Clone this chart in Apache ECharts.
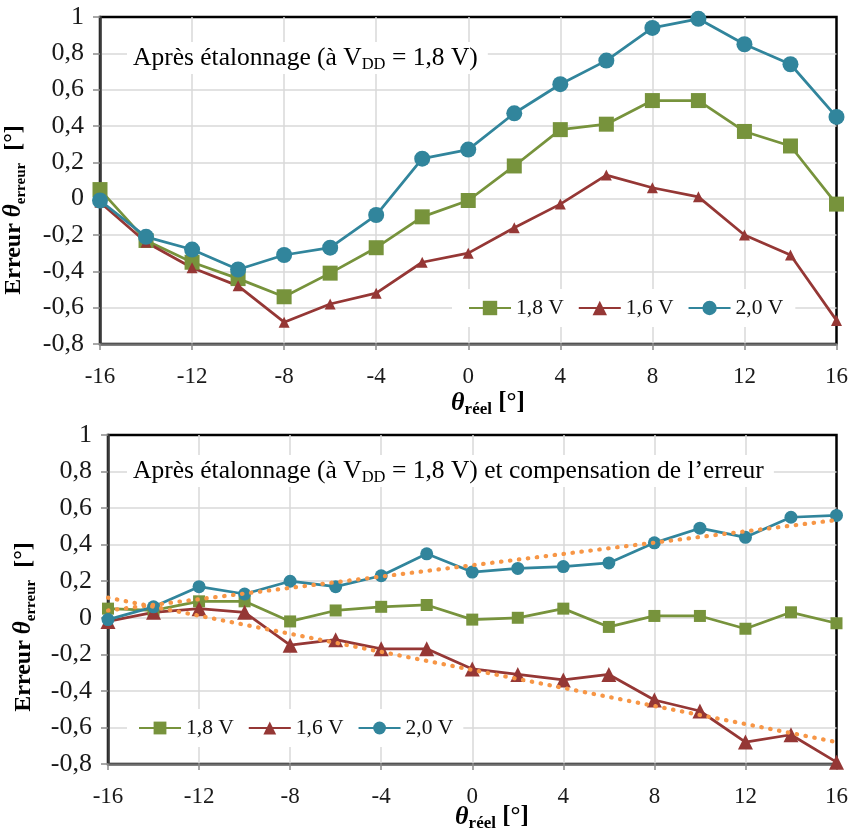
<!DOCTYPE html>
<html><head><meta charset="utf-8">
<script src="https://cdn.jsdelivr.net/npm/echarts@6/dist/echarts.min.js"></script>
<style>html,body{margin:0;padding:0;background:#fff}#c{width:851px;height:833px}</style>
</head><body><div id="c"></div>
<script>
// ---- data ----
const angles = [-16,-14,-12,-10,-8,-6,-4,-2,0,2,4,6,8,10,12,14,16];
const legendLabels = ['1,8 V','1,6 V','2,0 V'];
// top chart: after calibration
const top18 = [0.05,-0.23,-0.35,-0.44,-0.54,-0.41,-0.27,-0.10,-0.01,0.18,0.38,0.41,0.54,0.54,0.37,0.29,-0.03];
const top16 = [-0.02,-0.24,-0.38,-0.48,-0.68,-0.58,-0.52,-0.35,-0.30,-0.16,-0.03,0.13,0.06,0.01,-0.20,-0.31,-0.67];
const top20 = [-0.01,-0.21,-0.28,-0.39,-0.31,-0.27,-0.09,0.22,0.27,0.47,0.63,0.76,0.94,0.99,0.85,0.74,0.45];
// bottom chart: after calibration and compensation
const bot18 = [0.05,0.04,0.09,0.09,-0.02,0.04,0.06,0.07,-0.01,0.00,0.05,-0.05,0.01,0.01,-0.06,0.03,-0.03];
const bot16 = [-0.02,0.03,0.05,0.03,-0.15,-0.12,-0.17,-0.17,-0.28,-0.31,-0.34,-0.31,-0.45,-0.51,-0.68,-0.64,-0.79];
const bot20 = [-0.01,0.06,0.17,0.13,0.20,0.17,0.23,0.35,0.25,0.27,0.28,0.30,0.41,0.49,0.44,0.55,0.56];
// linear trend lines (end points)
const trendAngles = [-16, 16];
const trend20 = [0.04, 0.535];
const trend16 = [0.11, -0.68];

// ---- styling ----
const SERIF = 'Liberation Serif';
const C18 = '#77933C', C16 = '#953735', C20 = '#31859C', CTR = '#F79646';
const pairs = (xs, ys) => xs.map((x, i) => [x, ys[i]]);
const fmtY = v => String(Math.round(v * 10) / 10).replace('.', ',');

function xAx(gi) {
  return {
    type: 'value', gridIndex: gi, min: -16, max: 16, interval: 4,
    axisLine: { onZero: false, lineStyle: { color: '#6d6d6d', width: 2.5 } },
    axisTick: { show: true, length: 6, lineStyle: { color: '#8c8c8c', width: 1.5 } },
    axisLabel: { fontFamily: SERIF, fontSize: 23, color: '#1a1a1a', margin: 21 },
    splitLine: { show: true, showMinLine: false, showMaxLine: false, lineStyle: { color: '#d9d9d9', width: 1.5 } }
  };
}
function yAx(gi) {
  return {
    type: 'value', gridIndex: gi, min: -0.8, max: 1, interval: 0.2,
    axisLine: { onZero: false, lineStyle: { color: '#3a3a3a', width: 2.5 } },
    axisTick: { show: true, length: 7, lineStyle: { color: '#8c8c8c', width: 1.5 } },
    axisLabel: { fontFamily: SERIF, fontSize: 26, color: '#1a1a1a', margin: 16, formatter: fmtY },
    splitLine: { show: true, showMinLine: false, showMaxLine: false, lineStyle: { color: '#d9d9d9', width: 1.5 } }
  };
}
function line(name, gi, ys, color, symbol, size) {
  return {
    name, type: 'line', xAxisIndex: gi, yAxisIndex: gi,
    data: pairs(angles, ys), symbol, symbolSize: size,
    lineStyle: { color, width: 2.75 }, itemStyle: { color },
    animation: false, z: 3
  };
}
function trend(gi, ys) {
  return {
    type: 'line', xAxisIndex: gi, yAxisIndex: gi, data: pairs(trendAngles, ys),
    symbol: 'none', silent: true, animation: false, z: 4,
    lineStyle: { color: CTR, width: 4.2, type: [0.5, 8.5], cap: 'round' }
  };
}
const richAnn = {
  a: { fontFamily: SERIF, fontSize: 25.5, color: '#111', lineHeight: 30 },
  s: { fontFamily: SERIF, fontSize: 16.5, color: '#111', lineHeight: 16, verticalAlign: 'bottom' }
};
const richTitleY = {
  b: { fontFamily: SERIF, fontSize: 24, fontWeight: 'bold', color: '#111', lineHeight: 30 },
  t: { fontFamily: SERIF, fontSize: 25, fontWeight: 'bold', fontStyle: 'italic', color: '#111', lineHeight: 30 },
  s: { fontFamily: SERIF, fontSize: 15, fontWeight: 'bold', color: '#111', lineHeight: 15, verticalAlign: 'bottom' }
};
const richTitleX = {
  b: { fontFamily: SERIF, fontSize: 25, fontWeight: 'bold', color: '#111', lineHeight: 30 },
  t: { fontFamily: SERIF, fontSize: 26, fontWeight: 'bold', fontStyle: 'italic', color: '#111', lineHeight: 30 },
  s: { fontFamily: SERIF, fontSize: 17, fontWeight: 'bold', color: '#111', lineHeight: 17, verticalAlign: 'bottom' }
};
function legend(ids, left, top, pad, ih) {
  return {
    data: ids, left, top, orient: 'horizontal', backgroundColor: '#fff', padding: pad,
    itemWidth: 42, itemHeight: ih, itemGap: 14,
    formatter: n => legendLabels[ids.indexOf(n)],
    textStyle: { fontFamily: SERIF, fontSize: 21.5, color: '#111' }
  };
}

const chart = echarts.init(document.getElementById('c'), null, { renderer: 'canvas' });
chart.setOption({
  animation: false,
  backgroundColor: '#fff',
  grid: [
    { left: 100, top: 17, right: 14, bottom: 489, show: true, borderColor: '#000', borderWidth: 2.5, containLabel: false },
    { left: 108, top: 435, right: 14, bottom: 69, show: true, borderColor: '#000', borderWidth: 2.5, containLabel: false }
  ],
  xAxis: [xAx(0), xAx(1)],
  yAxis: [yAx(0), yAx(1)],
  legend: [
    legend(['t18', 't16', 't20'], 452, 289, [8, 12, 8, 16], 18),
    legend(['b18', 'b16', 'b20'], 127, 709, [8, 10, 8, 11], 16)
  ],
  series: [
    line('t18', 0, top18, C18, 'rect', 15),
    line('t16', 0, top16, C16, 'triangle', 11),
    line('t20', 0, top20, C20, 'circle', 16),
    line('b18', 1, bot18, C18, 'rect', 12),
    line('b16', 1, bot16, C16, 'triangle', 15),
    line('b20', 1, bot20, C20, 'circle', 13),
    trend(1, trend20),
    trend(1, trend16)
  ],
  graphic: [
    { type: 'text', x: 127, y: 58, z: 5, style: {
      text: '{a|Après étalonnage (à V}{s|DD}{a| = 1,8 V)}', rich: richAnn,
      verticalAlign: 'middle', align: 'left', backgroundColor: '#fff', padding: [1, 10, 1, 6] } },
    { type: 'text', x: 127, y: 471, z: 5, style: {
      text: '{a|Après étalonnage (à V}{s|DD}{a| = 1,8 V) et compensation de l’erreur}', rich: richAnn,
      verticalAlign: 'middle', align: 'left', backgroundColor: '#fff', padding: [1, 10, 1, 6] } },
    { type: 'text', x: 14, y: 210, rotation: Math.PI / 2, style: {
      text: '{b|Erreur }{t|θ}{s|erreur}{b|  [°]}', rich: richTitleY, align: 'center', verticalAlign: 'middle' } },
    { type: 'text', x: 24, y: 627, rotation: Math.PI / 2, style: {
      text: '{b|Erreur }{t|θ}{s|erreur}{b|  [°]}', rich: richTitleY, align: 'center', verticalAlign: 'middle' } },
    { type: 'text', x: 488, y: 403, style: {
      text: '{t|θ}{s|réel}{b| [°]}', rich: richTitleX, align: 'center', verticalAlign: 'middle' } },
    { type: 'text', x: 492, y: 817, style: {
      text: '{t|θ}{s|réel}{b| [°]}', rich: richTitleX, align: 'center', verticalAlign: 'middle' } }
  ]
});
</script></body></html>
